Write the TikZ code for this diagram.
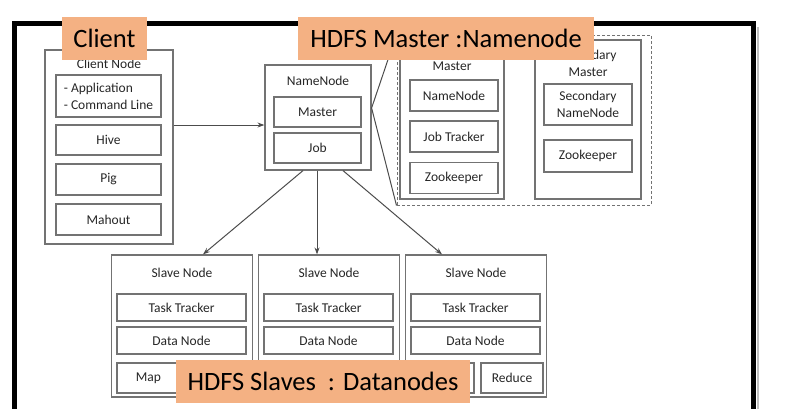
\documentclass[tikz,border=0pt]{standalone}
\usepackage{fontspec}
\setmainfont{Carlito}
\usetikzlibrary{arrows.meta}
\definecolor{tagorange}{RGB}{244,177,131}
\definecolor{boxgray}{RGB}{115,115,115}
\newcommand\partfont{\fontsize{13.5}{17}\selectfont}
\newcommand\tagfont{\fontsize{26.5}{30}\selectfont}

\begin{document}
\begin{tikzpicture}[x=1pt,y=-1pt,
  holder/.style n args={2}{draw=boxgray,line width=1.2pt,minimum width=#1,minimum height=#2,inner sep=0pt},
  part/.style n args={2}{holder={#1}{#2},text=black!85,font=\partfont},
  heading/.style={text=black!85,font=\partfont,inner sep=0pt},
  tag/.style={fill=tagorange,minimum height=43,inner sep=0pt,font=\tagfont,text=black},
  link/.style={draw=black!70,line width=1pt},
  feed/.style={link,-{Stealth[length=7pt,width=5pt]}}]
\useasboundingbox (0,0) rectangle (792,408);

% outer frame
\draw[black!25,line width=2pt] (757.5,27) -- (757.5,411);
\draw[line width=5pt] (14,411) |- (753,23.5) -- (753,411);

% Client node
\node[holder={128}{194}] (client) at (109,147) {};
\node[heading] (clienttitle) at (109,64) {Client Node};
\node[part={105}{42},align=left] (app) at (108.5,96) {- Application\\- Command Line};
\node[part={105}{30}] (hive) at (108.5,140) {Hive};
\node[part={105}{31}] (pig) at (108.5,179.5) {Pig};
\node[part={105}{31}] (mahout) at (108.5,219.5) {Mahout};

% NameNode
\node[holder={106}{105}] (nn) at (318,117.5) {};
\node[heading] (nntitle) at (318,81) {NameNode};
\node[part={87}{30}] (master) at (317.5,112) {Master};
\node[part={87}{30}] (job) at (317.5,148) {Job};

% Master + Secondary Master (zoomed)
\node[holder={254}{170},line width=1pt,dash pattern=on 3pt off 2pt] (zoom) at (524,120) {};
\node[holder={104}{159}] (primary) at (452,119.5) {};
\node[heading] (primarytitle) at (452,66) {Master};
\foreach \y/\name/\txt in {95.5/pnn/NameNode,136.5/pjt/Job Tracker,178/pzk/Zookeeper} {
    \node[part={88}{31}] (\name) at (454,\y) {\txt};
}
\node[holder={106}{159}] (secondary) at (588,119.5) {};
\node[heading,align=center] (secondarytitle) at (588,63) {Secondary\\Master};
\node[part={88}{41},align=center] (snn) at (588,104.5) {Secondary\\NameNode};
\node[part={88}{32}] (szk) at (588,156) {Zookeeper};

% Slave nodes
\foreach \s/\x in {1/0,2/147,3/294} {
\begin{scope}[xshift=\x]
    \node[holder={141}{142}] (slave\s) at (182,326) {};
    \node[heading] (slavetitle\s) at (182,273) {Slave Node};
    \node[part={129}{27}] (tt\s) at (181.5,307.5) {Task Tracker};
    \node[part={129}{27}] (dn\s) at (181.5,340.5) {Data Node};
\end{scope}
}
\node[part={63}{30}] (map1) at (148.5,378) {Map};
\node[part={63}{30}] (map3) at (442.5,378) {};
\node[part={62}{30}] (reduce3) at (512,378) {Reduce};

% connectors
\draw[feed] ([yshift=22pt]client.east) -- ([yshift=22pt]client.east -| nn.west);
\draw[feed] ([xshift=-15pt]nn.south) -- ([xshift=21pt]slave1.north);
\draw[feed] ([xshift=-1pt]nn.south) -- ([xshift=-12pt]slave2.north);
\draw[feed] ([xshift=25pt]nn.south) -- ([xshift=-34pt]slave3.north);
\draw[link] (zoom.north west) -- ([yshift=9.5pt]nn.east) -- (zoom.south west);

% labels
\node[tag,minimum width=85] (clienttag) at (104.5,38.5) {Client};
\node[tag,minimum width=296] (mastertag) at (446,38.5) {HDFS Master :Namenode};
\node[tag,minimum width=294] (slavetag) at (323,381.5) {HDFS Slaves\ \ : Datanodes};
\end{tikzpicture}
\end{document}
